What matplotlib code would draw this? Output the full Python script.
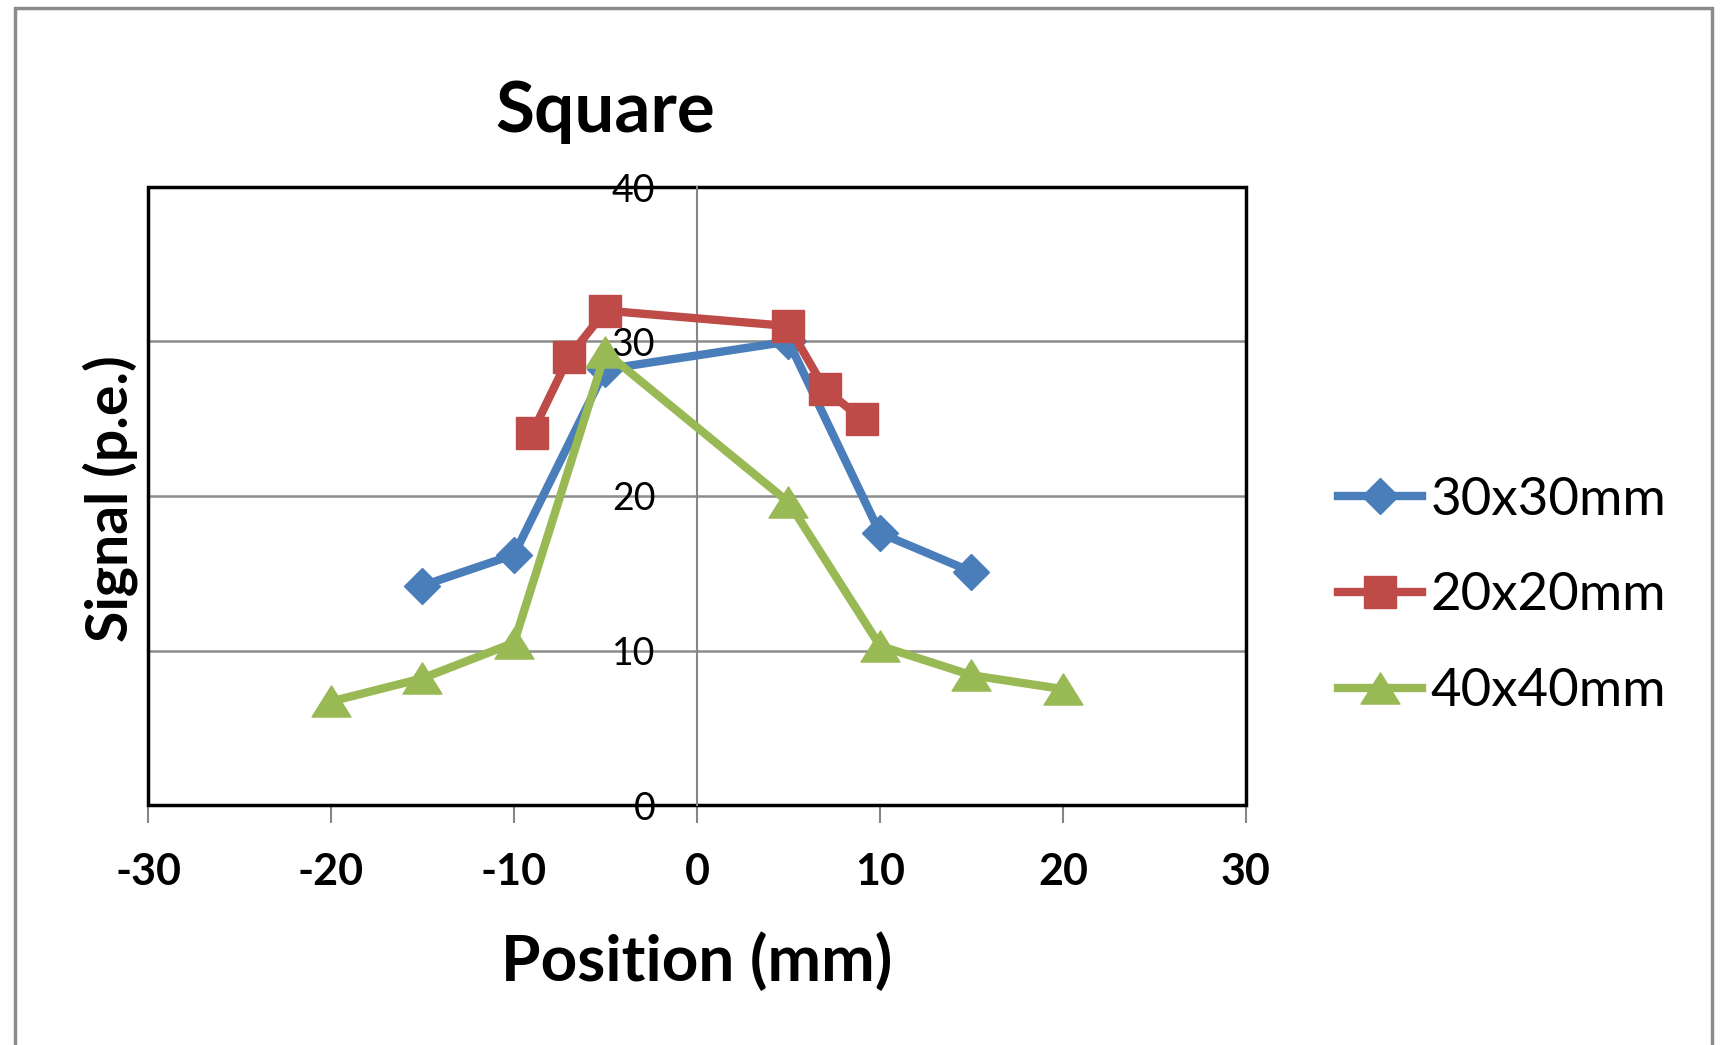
import matplotlib
matplotlib.use("Agg")
import matplotlib.pyplot as plt
from matplotlib.patches import Rectangle
from matplotlib.path import Path

plt.rcParams['font.family'] = ['Lato', 'DejaVu Sans']

# signal vs. scan position for three square counter sizes
x_30 = [-15, -10, -5, 5, 10, 15]
sig_30 = [14.2, 16.2, 28.2, 30.0, 17.6, 15.1]

x_20 = [-9, -7, -5, 5, 7, 9]
sig_20 = [24.1, 29.0, 32.0, 31.0, 26.9, 25.0]

x_40 = [-20, -15, -10, -5, 5, 10, 15, 20]
sig_40 = [6.7, 8.2, 10.5, 29.3, 19.6, 10.3, 8.4, 7.5]

labels = ['30x30mm', '20x20mm', '40x40mm']
xticks = [-30, -20, -10, 0, 10, 20, 30]
yticks = [0, 10, 20, 30, 40]

blue = '#4A7EBB'
red = '#BE4B48'
green = '#98B954'

# flattened triangle like the spreadsheet marker
tri = Path([(0, 0.8), (-1, -0.8), (1, -0.8), (0, 0.8)],
           [Path.MOVETO, Path.LINETO, Path.LINETO, Path.CLOSEPOLY])

fig = plt.figure(figsize=(17.24, 10.45), dpi=100)
ax = fig.add_axes((148/1724, 240/1045, 1098/1724, 618/1045))

ax.plot(x_30, sig_30, color=blue, lw=6, marker='D', ms=18,
        mec=blue, mfc=blue, label=labels[0], zorder=3)
ax.plot(x_20, sig_20, color=red, lw=6, marker='s', ms=23,
        mec=red, mfc=red, label=labels[1], zorder=4)
ax.plot(x_40, sig_40, color=green, lw=6, marker=tri, ms=28,
        mec=green, mfc=green, label=labels[2], zorder=5)

ax.set_xlim(-30, 30)
ax.set_ylim(0, 40)
ax.set_xticks(xticks)
ax.set_xticklabels([str(t) for t in xticks], fontsize=31, fontweight='bold')
ax.tick_params(axis='x', direction='out', length=13, width=1.5,
               color='#868686', pad=21)

# vertical axis sits at x = 0
ax.spines['left'].set_position(('data', 0))
ax.spines['left'].set_color('#868686')
ax.spines['left'].set_linewidth(1.5)
ax.set_yticks(yticks)
ax.set_yticklabels([str(t) for t in yticks], fontsize=27)
ax.tick_params(axis='y', length=0, pad=30)
for lab in ax.get_yticklabels():
    lab.set_zorder(6)

for s in ['top', 'right', 'bottom']:
    ax.spines[s].set_visible(False)
ax.yaxis.grid(True, color='#8C8C8C', lw=1.8)
ax.set_axisbelow(True)

# plot area border
ax.add_patch(Rectangle((0, 0), 1, 1, transform=ax.transAxes, fill=False,
                       ec='black', lw=2.5, clip_on=False, zorder=2))

fig.text(605/1724, 1 - 111/1045, 'Square', fontsize=51, fontweight='bold',
         ha='center', va='center')
fig.text(697/1724, 1 - 961/1045, 'Position (mm)', fontsize=46,
         fontweight='bold', ha='center', va='center')
fig.text(110/1724, 1 - 499/1045, 'Signal (p.e.)', fontsize=41,
         fontweight='bold', ha='center', va='center', rotation=90)

leg = ax.legend(loc='center left', bbox_to_anchor=(1338/1724, 1 - 596/1045),
                bbox_transform=fig.transFigure, frameon=False, fontsize=38,
                handlelength=1.6, handletextpad=0.15, labelspacing=0.92,
                borderpad=0, borderaxespad=0)

# outer chart frame
fig.patches.append(Rectangle((15/1724, -0.05), 1697/1724, 1.05 - 8/1045,
                             transform=fig.transFigure, fill=False,
                             ec='#8C8C8C', lw=2.5))

fig.savefig('out.png', dpi=100)
